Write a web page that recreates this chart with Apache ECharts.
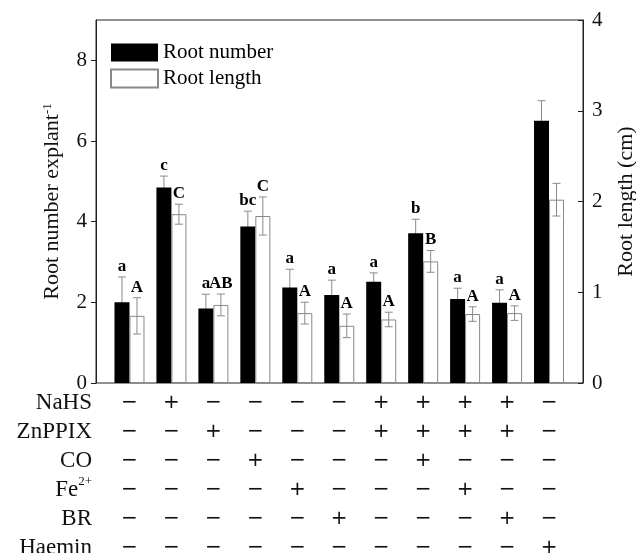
<!DOCTYPE html>
<html>
<head>
<meta charset="utf-8">
<script src="https://cdn.jsdelivr.net/npm/echarts@6/dist/echarts.min.js"></script>
<style>
  html, body { margin: 0; padding: 0; background: #fff; }
  #chart { width: 636px; height: 553px; }
</style>
</head>
<body>
<div id="chart"></div>
<script>
//--------------------- Data ---------------------------//
const groups = ['1', '2', '3', '4', '5', '6', '7', '8', '9', '10', '11'];
const rootNumber = [2.0, 4.85, 1.85, 3.88, 2.37, 2.18, 2.51, 3.71, 2.08, 1.99, 6.5];
const rootNumberErr = [0.63, 0.28, 0.35, 0.38, 0.45, 0.37, 0.22, 0.35, 0.27, 0.32, 0.5];
const rootLength = [0.74, 1.86, 0.86, 1.84, 0.77, 0.63, 0.70, 1.34, 0.76, 0.77, 2.02];
const rootLengthErr = [0.2, 0.11, 0.12, 0.21, 0.12, 0.13, 0.08, 0.12, 0.08, 0.08, 0.18];
const numberLetters = ['a', 'c', 'a', 'bc', 'a', 'a', 'a', 'b', 'a', 'a', ''];
const lengthLetters = ['A', 'C', 'AB', 'C', 'A', 'A', 'A', 'B', 'A', 'A', ''];

// treatment table (+ / −)
const rowNames = ['NaHS', 'ZnPPIX', 'CO', '{fe|Fe}{sup|2+}', 'BR', 'Haemin'];
const nahs   = ['−', '+', '−', '−', '−', '−', '+', '+', '+', '+', '−'];
const znppix = ['−', '−', '+', '−', '−', '−', '+', '+', '+', '+', '−'];
const co     = ['−', '−', '−', '+', '−', '−', '−', '+', '−', '−', '−'];
const fe     = ['−', '−', '−', '−', '+', '−', '−', '−', '+', '−', '−'];
const br     = ['−', '−', '−', '−', '−', '+', '−', '−', '−', '+', '−'];
const haemin = ['−', '−', '−', '−', '−', '−', '−', '−', '−', '−', '+'];
const treatRows = [nahs, znppix, co, fe, br, haemin];

const leftTicks = [0, 2, 4, 6, 8];
const rightTicks = [0, 1, 2, 3, 4];

//--------------------- Styles ---------------------------//
const serif = 'Liberation Serif';
const errColor = '#8a8a8a';
const rowH = 29;

// error bar + letter drawn with the axis scales
function errRender(dx, letters) {
  return function (params, api) {
    const i = api.value(0);
    const m = api.value(1);
    const e = api.value(2);
    const top = api.coord([i, m + e]);
    const bot = api.coord([i, m - e]);
    const x = top[0] + dx;
    const hw = 4;
    return {
      type: 'group',
      children: [
        { type: 'line', shape: { x1: x, y1: top[1], x2: x, y2: bot[1] }, style: { stroke: errColor, lineWidth: 1 } },
        { type: 'line', shape: { x1: x - hw, y1: top[1], x2: x + hw, y2: top[1] }, style: { stroke: errColor, lineWidth: 1 } },
        { type: 'line', shape: { x1: x - hw, y1: bot[1], x2: x + hw, y2: bot[1] }, style: { stroke: errColor, lineWidth: 1 } },
        {
          type: 'text', x: x, y: top[1] - 2,
          style: {
            text: letters[i], fill: '#000', align: 'center', verticalAlign: 'bottom',
            font: 'bold 17px "' + serif + '"'
          }
        }
      ]
    };
  };
}

const chart = echarts.init(document.getElementById('chart'));

const option = {
  animation: false,
  backgroundColor: '#fff',
  grid: [
    { left: 108.5, right: 66, top: 20, bottom: 170, outerBoundsMode: 'none' },
    {
      left: 96, right: 53, top: 20, bottom: 170, outerBoundsMode: 'none',
      show: true, borderColor: '#222', borderWidth: 1, backgroundColor: 'transparent'
    }
  ],
  legend: {
    orient: 'vertical', left: 110, top: 42, padding: 0,
    itemWidth: 47, itemHeight: 18, itemGap: 5,
    icon: 'rect',
    textStyle: { fontFamily: serif, fontSize: 21, color: '#000' },
    data: ['Root number', 'Root length']
  },
  xAxis: [
    {
      type: 'category', gridIndex: 0, data: groups,
      axisLine: { show: false }, axisTick: { show: false },
      axisLabel: {
        interval: 0, margin: 5,
        fontFamily: 'DejaVu Sans', fontSize: 20, color: '#111', lineHeight: rowH,
        formatter: (v, idx) => treatRows.map(r => r[idx]).join('\n')
      }
    },
    { type: 'value', gridIndex: 1, show: false }
  ],
  yAxis: [
    {
      type: 'value', gridIndex: 0, position: 'left', offset: 12.5,
      min: 0, max: 9, interval: 1,
      name: 'Root number explant{sup|-1}', nameLocation: 'middle', nameGap: 33,
      nameTextStyle: {
        fontFamily: serif, fontSize: 22, color: '#111',
        rich: { sup: { fontFamily: serif, fontSize: 13, verticalAlign: 'top', lineHeight: 13 } }
      },
      axisLine: { show: true, lineStyle: { color: '#222' } },
      axisTick: { show: true, length: 5, customValues: leftTicks, lineStyle: { color: '#222' } },
      axisLabel: { customValues: leftTicks, margin: 9, fontFamily: serif, fontSize: 21, color: '#111' },
      splitLine: { show: false }
    },
    {
      type: 'value', gridIndex: 0, position: 'right', offset: 13,
      min: 0, max: 4, interval: 1,
      name: 'Root length (cm)', nameLocation: 'middle', nameGap: 32,
      nameTextStyle: { fontFamily: serif, fontSize: 22, color: '#111' },
      axisLine: { show: true, lineStyle: { color: '#222' } },
      axisTick: { show: true, inside: true, length: 5, customValues: rightTicks, lineStyle: { color: '#222' } },
      axisLabel: { customValues: rightTicks, margin: 9, fontFamily: serif, fontSize: 21, color: '#111' },
      splitLine: { show: false }
    },
    { type: 'value', gridIndex: 1, show: false }
  ],
  graphic: [
    {
      type: 'text', x: 92, y: 388,
      style: {
        text: rowNames.join('\n'),
        align: 'right', verticalAlign: 'top',
        fontFamily: serif, fontSize: 23, lineHeight: rowH, fill: '#111',
        rich: {
          fe: { fontFamily: serif, fontSize: 23, lineHeight: rowH, fill: '#111' },
          sup: { fontFamily: serif, fontSize: 13, lineHeight: 13, verticalAlign: 'top', fill: '#111' }
        }
      }
    }
  ],
  series: [
    {
      type: 'custom', name: 'numErr', xAxisIndex: 0, yAxisIndex: 0, z: 1,
      renderItem: errRender(-7.5, numberLetters),
      data: rootNumber.map((v, i) => [i, v, rootNumberErr[i]])
    },
    {
      name: 'Root number', type: 'bar', xAxisIndex: 0, yAxisIndex: 0, z: 2,
      barWidth: 15, barGap: '0%',
      itemStyle: { color: '#000', borderColor: '#000', borderWidth: 0 },
      data: rootNumber
    },
    {
      name: 'Root length', type: 'bar', xAxisIndex: 0, yAxisIndex: 1, z: 2,
      barWidth: 15, barGap: '0%',
      itemStyle: { color: '#fff', borderColor: '#888', borderWidth: 1 },
      data: rootLength
    },
    {
      type: 'custom', name: 'lenErr', xAxisIndex: 0, yAxisIndex: 1, z: 3,
      renderItem: errRender(7.5, lengthLetters),
      data: rootLength.map((v, i) => [i, v, rootLengthErr[i]])
    }
  ]
};

chart.setOption(option);
</script>
</body>
</html>
